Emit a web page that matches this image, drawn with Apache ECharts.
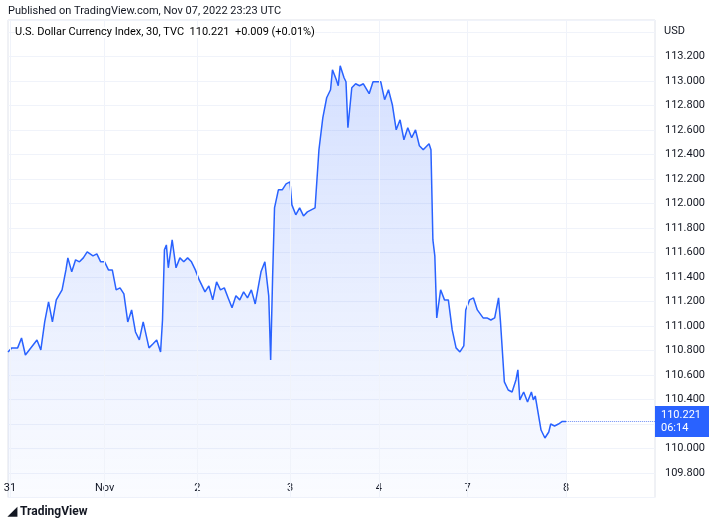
<!DOCTYPE html>
<html>
<head>
<meta charset="utf-8">
<script src="https://cdn.jsdelivr.net/npm/echarts@6/dist/echarts.min.js"></script>
<style>html,body{margin:0;padding:0;background:#fff}#c{width:720px;height:526px}</style>
</head>
<body>
<div id="c"></div>
<script>
// 30-min bar index since start of Oct 31 session
const bars = [0,2,5,7,9,11,15,17,19,21,23,25,28,30,31,33,35,37,39,41,44,46,48,50,52,54,56,58,60,62,64,66,68,70,73,75,77,79,80,81,82,83,85,87,89,91,93,95,97,99,102,104,106,108,110,112,114,116,118,120,122,124,126,128,131,133,135,136,137,138,140,142,144,146,147,149,151,153,155,159,161,163,165,167,168,170,171,172,174,175,176,178,180,182,184,187,189,191,193,195,197,199,201,203,205,207,209,211,213,215,218,219,220,221,222,224,226,228,230,232,234,236,237,239,241,243,246,248,250,252,254,255,257,259,261,263,264,265,267,269,271,272,273,276,278,280,281,283,285,287,289];
const prices = [110.789,110.822,110.822,110.903,110.764,110.805,110.887,110.805,111.034,111.198,111.034,111.214,111.296,111.459,111.557,111.443,111.541,111.525,111.557,111.606,111.574,111.590,111.525,111.525,111.459,111.459,111.296,111.312,111.263,111.034,111.132,110.952,110.887,111.034,110.822,110.854,110.887,110.789,111.050,111.623,111.663,111.476,111.704,111.476,111.557,111.525,111.557,111.525,111.459,111.377,111.279,111.328,111.214,111.361,111.296,111.312,111.230,111.149,111.247,111.214,111.279,111.230,111.296,111.181,111.443,111.525,111.247,110.724,111.394,111.966,112.113,112.113,112.162,112.178,111.990,111.909,111.966,111.900,111.933,111.966,112.440,112.701,112.865,112.930,113.094,113.012,112.963,113.126,113.028,112.996,112.620,112.947,112.979,112.963,112.979,112.898,112.996,112.996,112.996,112.849,112.930,112.808,112.603,112.685,112.522,112.620,112.538,112.603,112.473,112.440,112.489,112.440,111.704,111.574,111.067,111.296,111.214,111.214,110.969,110.822,110.789,110.838,111.132,111.214,111.230,111.132,111.067,111.067,111.050,111.067,111.230,111.034,110.544,110.478,110.462,110.560,110.642,110.397,110.462,110.380,110.462,110.397,110.429,110.151,110.086,110.135,110.200,110.184,110.200,110.221,110.221];
const dayLabels = ['31','Nov','2','3','4','7','8'];
const dayBars = [1,50,98,146,192,238,289];
const lastPrice = 110.221;

const chart = echarts.init(document.getElementById('c'));
const font = 'Roboto, "Noto Sans", sans-serif';
chart.setOption({
  animation: false,
  grid: {left: 8, right: 65, top: 20, bottom: 28.5, show: true, borderColor: '#e0e3eb', borderWidth: 1},
  graphic: [
    {type: 'text', left: 8, top: 6, style: {text: 'Published on TradingView.com, Nov 07, 2022 23:23 UTC', font: '11px ' + font, fill: '#131722'}},
    {type: 'text', left: 15, top: 27, z: 100, style: {backgroundColor: '#fff', rich: {a: {fontSize: 11, fontFamily: font, color: '#131722'}, b: {fontSize: 11, fontFamily: font, color: '#2962ff'}}, text: '{a|U.S. Dollar Currency Index, 30, TVC  }{b|110.221  +0.009 (+0.01%)}'}},
    {type: 'text', left: 664, top: 26, style: {text: 'USD', font: '11px ' + font, fill: '#131722'}},
    {type: 'text', left: 8, top: 506, style: {text: '◢ TradingView', font: 'bold 12px ' + font, fill: '#131722'}}
  ],
  xAxis: {
    type: 'value', min: 0, max: 335,
    axisLine: {show: false}, axisTick: {show: false}, splitLine: {show: false},
    axisLabel: {inside: true, margin: 4, customValues: dayBars, color: '#131722', fontFamily: font, fontSize: 11,
      formatter: v => dayLabels[dayBars.indexOf(v)] || ''}
  },
  yAxis: {
    type: 'value', position: 'right', min: 109.6, max: 113.5, interval: 0.2,
    axisLine: {show: false}, axisTick: {show: false},
    splitLine: {lineStyle: {color: '#f0f3fa'}},
    axisLabel: {margin: 10, color: '#131722', fontFamily: font, fontSize: 11,
      formatter: v => (v < 109.7 || v > 113.3) ? '' : v.toFixed(3)}
  },
  series: [{
    type: 'line', data: bars.map((b, i) => [b, prices[i]]), showSymbol: false,
    lineStyle: {color: '#2962ff', width: 1.5}, itemStyle: {color: '#2962ff'},
    areaStyle: {origin: 'start', color: new echarts.graphic.LinearGradient(0, 0, 0, 1, [
      {offset: 0, color: 'rgba(41,98,255,0.28)'}, {offset: 1, color: 'rgba(41,98,255,0.03)'}])},
    markLine: {
      symbol: 'none', silent: true, animation: false,
      data: [
        ...dayBars.map(b => ({xAxis: b, lineStyle: {color: '#f0f3fa', type: 'solid', width: 1}, label: {show: false}})),
        [{coord: [289, lastPrice], lineStyle: {color: '#6f8ff5', type: 'dotted', width: 1},
          label: {show: true, position: 'end', formatter: '110.221\n06:14', backgroundColor: '#2962ff', color: '#fff',
            fontFamily: font, fontSize: 11, lineHeight: 13, padding: [3, 8, 2, 6], distance: 0}},
         {coord: [335, lastPrice]}]
      ]
    }
  }]
});
</script>
</body>
</html>
